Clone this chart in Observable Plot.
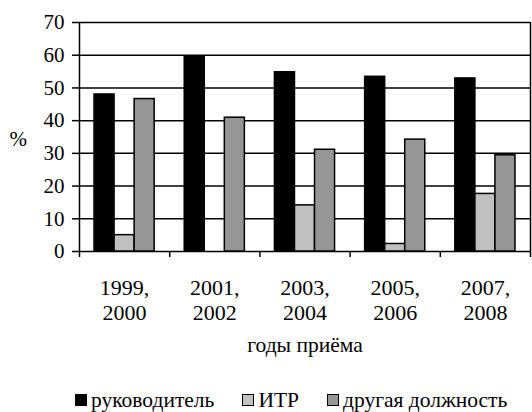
<!DOCTYPE html>
<html><head><meta charset="utf-8">
<script src="https://cdn.jsdelivr.net/npm/d3@7"></script>
<script src="https://cdn.jsdelivr.net/npm/@observablehq/plot@0.6"></script>
<style>
body{margin:0;background:#fff;font-family:"Liberation Serif","Times New Roman",serif;color:#000;}
svg text, svg g{font-family:"Liberation Serif","Times New Roman",serif !important;}
#legend{display:flex;align-items:center;height:40px;box-sizing:border-box;padding-top:16px;padding-left:75px;font-size:21.5px;line-height:20px;font-family:"Liberation Serif","Times New Roman",serif;white-space:nowrap;}
.item{display:flex;align-items:center;margin-right:28px;flex-shrink:0;white-space:nowrap;}
.item:last-child{margin-right:0;}
.sw{width:10px;height:10px;border:1.5px solid #000;margin-right:4px;}
</style></head><body><div id="chart"></div><div id="legend"></div>
<script>
const periods = ["1999,\n2000","2001,\n2002","2003,\n2004","2005,\n2006","2007,\n2008"];
const seriesNames = ["руководитель","ИТР","другая должность"];
const manager = [48.0, 59.4, 54.8, 53.4, 52.9];
const engineer = [5.0, 0, 14.1, 2.3, 17.6];
const other = [46.6, 40.9, 31.1, 34.2, 29.4];
const yTicks = [0,10,20,30,40,50,60,70];
const colors = ["#000000","#c0c0c0","#969696"];
const axisTitle = "годы приёма";
const yTitle = "%";

const serif = "Liberation Serif";
const values = [manager, engineer, other];
const rows = [];
periods.forEach((p,i)=>seriesNames.forEach((s,j)=>{
  if (values[j][i] > 0) rows.push({i, j, series:s, value: values[j][i]});
}));
const barW = 2/9, groupOff = 1/6;

const chart = Plot.plot({
  width: 532, height: 372,
  marginLeft: 79, marginRight: 2, marginTop: 22, marginBottom: 121,
  style: {fontFamily: "'Liberation Serif', 'Times New Roman', serif", fontSize: "21px", color: "#000", background: "#fff"},
  x: {domain: [0, periods.length], axis: null},
  y: {domain: [0, 70], axis: null},
  color: {domain: seriesNames, range: colors},
  marks: [
    Plot.ruleY(yTicks, {stroke: "#000", strokeWidth: 1.5}),
    Plot.rectY(rows, {x1: d => d.i + groupOff + d.j*barW, x2: d => d.i + groupOff + (d.j+1)*barW, y: "value", fill: "series", stroke: "#000", strokeWidth: 1.5}),
    Plot.ruleX([0, periods.length], {stroke: "#000", strokeWidth: 1.5}),
    Plot.axisY({ticks: yTicks, tickSize: 7, tickPadding: 8, fontSize: 21, fontFamily: serif, label: null, strokeWidth: 1.5}),
    Plot.axisX({ticks: d3.range(periods.length + 1), tickSize: 6, tickFormat: () => "", label: null, strokeWidth: 1.5}),
    Plot.text(periods, {x: (d, i) => i + 0.5, frameAnchor: "bottom", dy: 48, lineHeight: 1.15, lineAnchor: "middle", fontSize: 22, fontFamily: serif}),
    Plot.text([axisTitle], {frameAnchor: "bottom", dy: 100, fontSize: 21.5, fontFamily: serif}),
    Plot.text([yTitle], {frameAnchor: "left", dx: -70, dy: 2, fontSize: 21, fontFamily: serif})
  ]
});
document.getElementById("chart").appendChild(chart);

const legend = document.getElementById("legend");
seriesNames.forEach((s, j) => {
  const it = document.createElement("div"); it.className = "item";
  const sw = document.createElement("span"); sw.className = "sw"; sw.style.background = colors[j];
  const t = document.createElement("span"); t.textContent = s;
  it.appendChild(sw); it.appendChild(t); legend.appendChild(it);
});
</script></body></html>
